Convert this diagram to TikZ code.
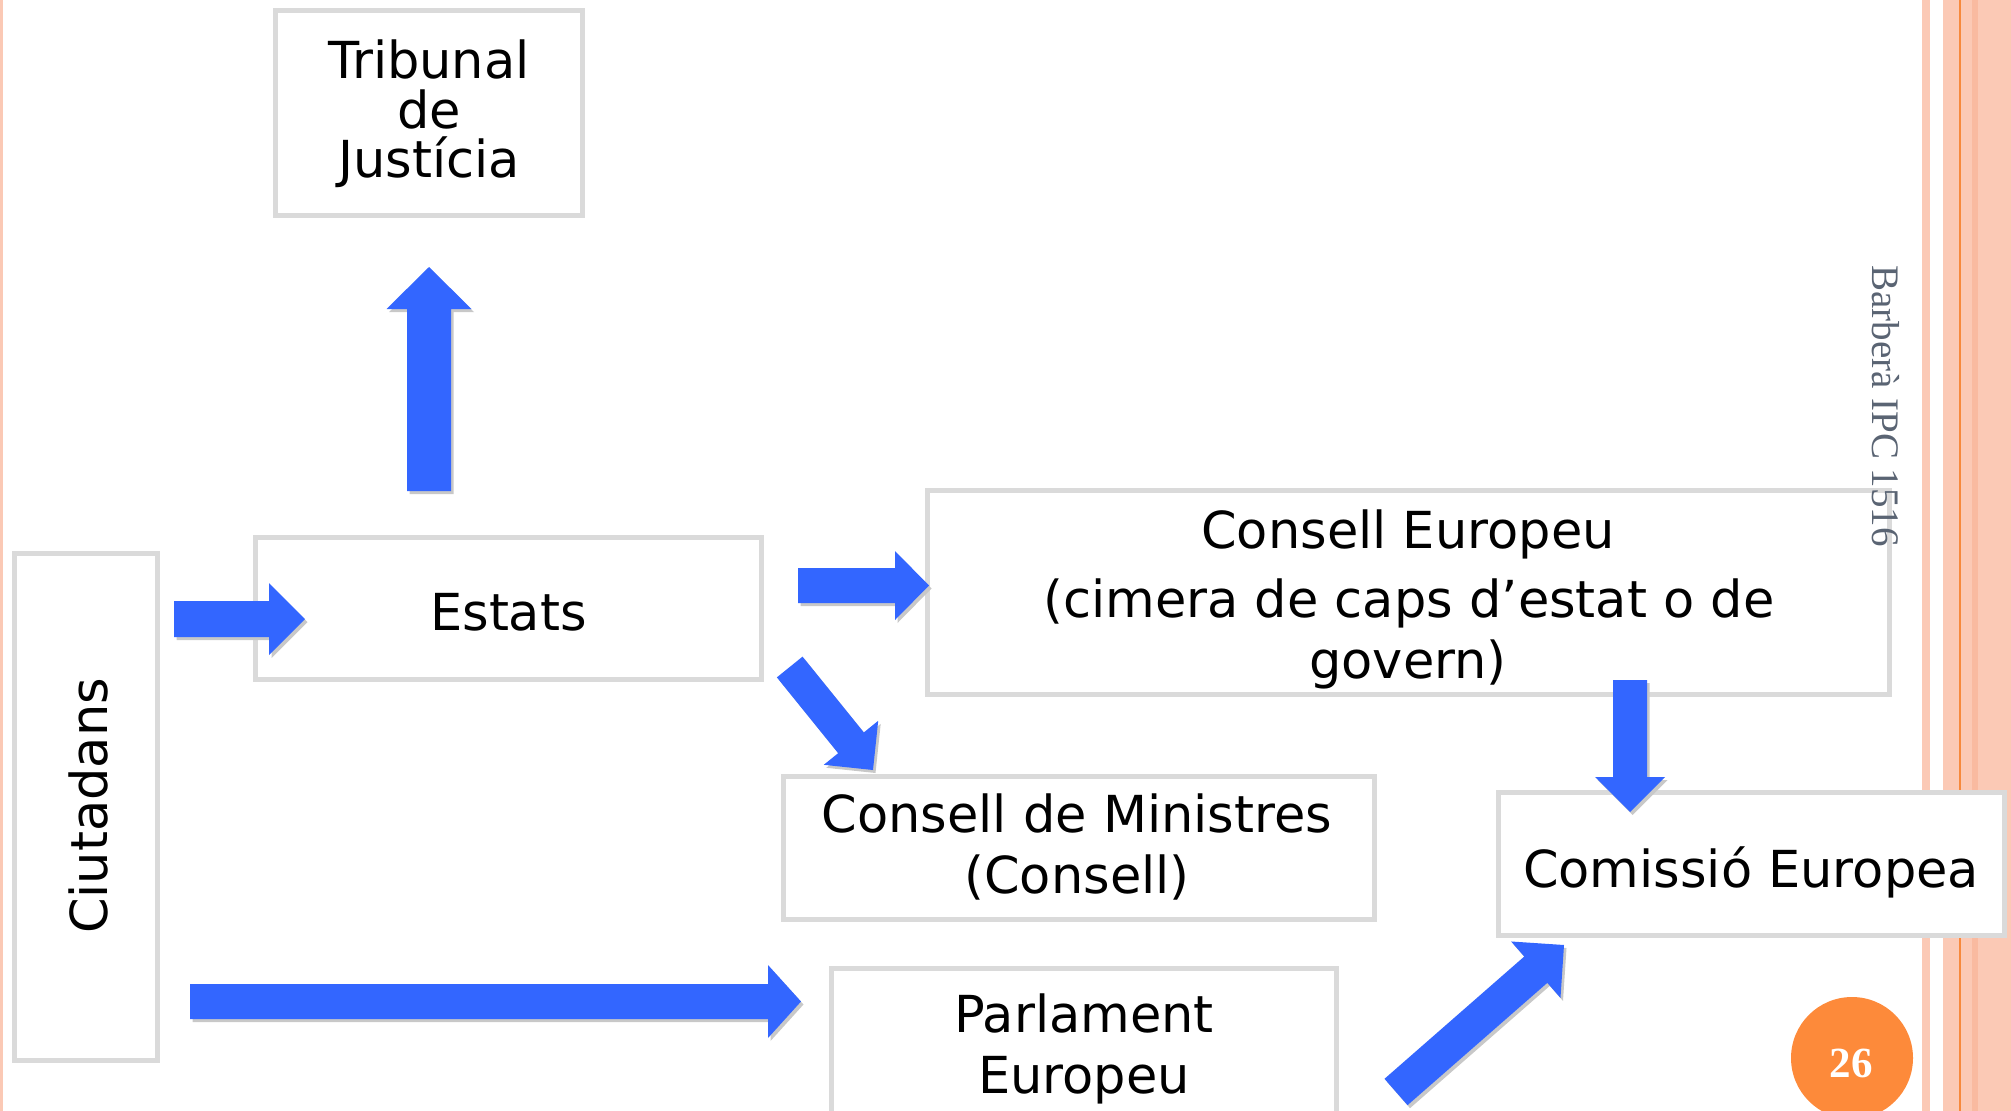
\documentclass[tikz,border=0pt]{standalone}
\usepackage{fontspec}
\setmainfont{DejaVu Sans}
\newfontfamily\serifface{Liberation Serif}
\usetikzlibrary{calc}
\definecolor{boxgray}{RGB}{218,218,218}
\definecolor{arrowblue}{RGB}{51,102,255}
\definecolor{peach}{RGB}{251,201,181}
\definecolor{peachdark}{RGB}{249,186,160}
\definecolor{orangeline}{RGB}{247,137,60}
\definecolor{orangepage}{RGB}{253,138,58}
\definecolor{authgray}{RGB}{90,100,115}
\definecolor{shadowgray}{RGB}{200,200,200}
% #1 tail, #2 tip, #3 shaft half width, #4 head half width, #5 head length, #6 style
\newcommand\blockarrow[6]{%
  \path ($(#2)!#5!(#1)$) coordinate (bah);
  \fill[#6] ($(#1)!#3!90:(#2)$) -- ($(bah)!#3!90:(#2)$) -- ($(bah)!#4!90:(#2)$) -- (#2)
    -- ($(bah)!#4!-90:(#2)$) -- ($(bah)!#3!-90:(#2)$) -- ($(#1)!#3!-90:(#2)$) -- cycle;
}
\newcommand\shadowarrow[5]{%
  \begin{scope}[transform canvas={shift={(2.5pt,-3pt)}}]
    \blockarrow{#1}{#2}{#3}{#4}{#5}{shadowfill}
  \end{scope}
  \blockarrow{#1}{#2}{#3}{#4}{#5}{arrowfill}
}
\tikzset{
  box/.style={draw=boxgray, line width=5pt, fill=white, rectangle, inner sep=0pt, outer sep=0pt},
  lbl/.style={anchor=base, inner sep=0pt, outer sep=0pt, font=\fontsize{51}{61}\selectfont, text=black},
  arrowfill/.style={fill=arrowblue},
  shadowfill/.style={fill=shadowgray},
}
\begin{document}
\begin{tikzpicture}[x=1pt, y=-1pt]
\useasboundingbox (0,0) rectangle (2011,1111);
% page decoration stripes
\fill[peach] (0,0) rectangle (3,1111);
\fill[peach] (1921.7,0) rectangle (1930,1111);
\fill[peach] (1942.7,0) rectangle (2011,1111);
\fill[peachdark] (1971.7,0) rectangle (1977.7,1111);
\fill[orangeline] (1958.5,0) rectangle (1961,1111);

% boxes
\node[box, minimum width=307pt, minimum height=205pt] (trib) at (429,113) {};
\node[box, minimum width=506pt, minimum height=142pt] (estats) at (508.5,608.5) {};
\node[box, minimum width=143pt, minimum height=507pt] (ciut) at (86,807) {};
\node[box, minimum width=962pt, minimum height=204pt] (ce) at (1408.5,592.5) {};
\node[box, minimum width=591pt, minimum height=143pt] (cm) at (1079,848) {};
\node[box, minimum width=506pt, minimum height=143pt] (com) at (1751.5,864) {};
\node[box, minimum width=505pt, minimum height=150pt] (parl) at (1084,1043.5) {};

% texts
\node[lbl] (trib1) at (429,78) {Tribunal};
\node[lbl] (trib2) at (429,128) {de};
\node[lbl] (trib3) at (429,177) {Justícia};
\node[lbl] (estatst) at (508.5,630) {Estats};
\node[lbl, rotate=90] (ciutt) at (107,806) {Ciutadans};
\node[lbl] (ce1) at (1408,548) {Consell Europeu};
\node[lbl] (ce2) at (1409,617) {(cimera de caps d’estat o de};
\node[lbl] (ce3) at (1408,678) {govern)};
\node[lbl] (cm1) at (1077,832) {Consell de Ministres};
\node[lbl] (cm2) at (1077,893) {(Consell)};
\node[lbl] (parl1) at (1084,1032) {Parlament};
\node[lbl] (parl2) at (1084,1093) {Europeu};
\node[lbl] (comt) at (1751,887) {Comissió Europea};

% arrow end points
\coordinate (a1s) at (174,619);    \coordinate (a1e) at (305,619);
\coordinate (a2s) at (429,491);    \coordinate (a2e) at (429,267);
\coordinate (a3s) at (798,585.5);  \coordinate (a3e) at (929,585.5);
\coordinate (a4s) at (789.7,667);  \coordinate (a4e) at (873,770);
\coordinate (a5s) at (190,1001.5); \coordinate (a5e) at (801,1001.5);
\coordinate (a6s) at (1630,680);   \coordinate (a6e) at (1630,812);
\coordinate (a7s) at (1396,1092);  \coordinate (a7e) at (1564,945);

\shadowarrow{a1s}{a1e}{18pt}{36pt}{36pt}
\shadowarrow{a2s}{a2e}{22pt}{42.5pt}{42pt}
\shadowarrow{a3s}{a3e}{17.5pt}{34.5pt}{34pt}
\shadowarrow{a4s}{a4e}{16.5pt}{35pt}{35pt}
\shadowarrow{a5s}{a5e}{17.5pt}{36.5pt}{33pt}
\shadowarrow{a6s}{a6e}{17pt}{35pt}{35pt}
\shadowarrow{a7s}{a7e}{17.5pt}{37.5pt}{37.5pt}

% author note and page number
\node[rotate=-90, anchor=base, inner sep=0pt, text=authgray, font=\serifface\fontsize{39}{39}\selectfont] (auth) at (1872,406) {Barberà IPC 1516};
\node[circle, fill=orangepage, minimum size=122pt, inner sep=0pt] (page) at (1852,1058) {};
\node[anchor=base, inner sep=0pt, text=white, font=\serifface\bfseries\fontsize{43}{43}\selectfont] (pagenum) at (1851,1077) {26};
\end{tikzpicture}
\end{document}
